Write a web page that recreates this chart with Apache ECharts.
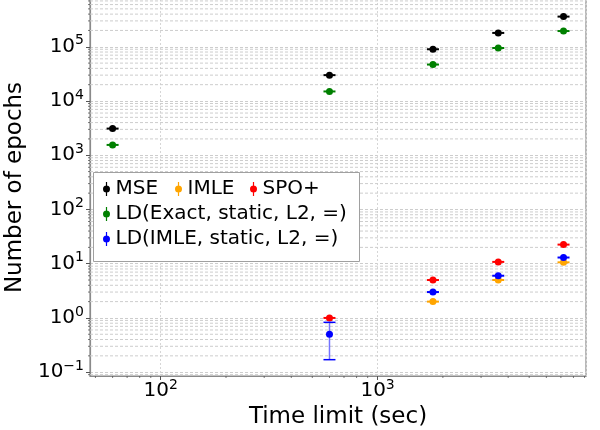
<!DOCTYPE html>
<html>
<head>
<meta charset="utf-8">
<script src="https://cdn.jsdelivr.net/npm/echarts@6/dist/echarts.min.js"></script>
<style>
html,body{margin:0;padding:0;background:#fff;}
#chart{width:600px;height:430px;}
</style>
</head>
<body>
<div id="chart"></div>
<script>
// ---- data ----
const timeLimits = [60, 600, 1800, 3600, 7200];
const mseMean      = [3100, 30000, 90000, 180000, 360000];
const mseErr       = [0, 0, 0, 0, 0];
const imleMean     = [null, null, 2, 5, 10.6];
const imleErr      = [0, 0, 0, 0, 0];
const spoMean      = [null, 1, 5, 10.8, 22.5];
const spoErr       = [0, 0, 0, 0, 0];
const ldExactMean  = [1550, 15000, 47000, 95000, 195000];
const ldExactErr   = [0, 0, 0, 0, 0];
const ldImleMean   = [null, 0.5, 3, 6, 13];
const ldImleErr    = [0, 0.33, 0, 0, 0];

const seriesNames = ['MSE', 'IMLE', 'SPO+', 'LD(Exact, static, L2, =)', 'LD(IMLE, static, L2, =)'];
const seriesColors = ['#000000', '#FFA500', '#FF0000', '#008000', '#0000FF'];
const seriesMeans = [mseMean, imleMean, spoMean, ldExactMean, ldImleMean];
const seriesErrs = [mseErr, imleErr, spoErr, ldExactErr, ldImleErr];

// axis ranges
const xMin = 47.2, xMax = 9140;
const yMin = 0.085, yMax = 7.6e5;

// minor tick positions (log axes: 2..9 x each decade)
const yMinor = [];
for (let d = -2; d <= 5; d++) for (let m = 2; m <= 9; m++) {
  const v = m * Math.pow(10, d);
  if (v > yMin && v < yMax) yMinor.push(v);
}
const xMinor = [];
for (let d = 1; d <= 3; d++) for (let m = 2; m <= 9; m++) {
  const v = m * Math.pow(10, d);
  if (v > xMin && v < xMax) xMinor.push(v);
}

const FONT = 'DejaVu Sans';

function supLabel(v) {
  const l = Math.log10(v);
  const e = Math.round(l);
  if (Math.abs(l - e) > 1e-6) return '';
  const s = e < 0 ? '\u2212' + (-e) : '' + e;
  return '{b|10}{s|' + s + '}';
}
const labelRich = {
  b: {fontSize: 20, lineHeight: 26, fontFamily: FONT, color: '#000'},
  s: {fontSize: 14, lineHeight: 14, fontFamily: FONT, color: '#000', verticalAlign: 'top'}
};

const series = [];

// minor grid lines and minor ticks (y)
series.push({
  type: 'custom', name: '_yminor', silent: true, clip: false, z: 1,
  data: yMinor.map(v => [xMin, v]),
  renderItem: function (params, api) {
    const cs = params.coordSys;
    const p = api.coord([xMin, api.value(1)]);
    return {type: 'group', children: [
      {type: 'line', shape: {x1: cs.x, y1: p[1], x2: cs.x + cs.width, y2: p[1]},
       style: {stroke: '#cdcdcd', lineWidth: 1, lineDash: [3, 2]}},
      {type: 'line', shape: {x1: cs.x - 2, y1: p[1], x2: cs.x, y2: p[1]},
       style: {stroke: '#555', lineWidth: 0.8}}
    ]};
  }
});
// minor ticks (x)
series.push({
  type: 'custom', name: '_xminor', silent: true, clip: false, z: 1,
  data: xMinor.map(v => [v, yMin]),
  renderItem: function (params, api) {
    const cs = params.coordSys;
    const p = api.coord([api.value(0), yMin]);
    return {type: 'line', shape: {x1: p[0], y1: cs.y + cs.height, x2: p[0], y2: cs.y + cs.height + 2},
      style: {stroke: '#555', lineWidth: 0.8}};
  }
});

seriesNames.forEach((name, i) => {
  const color = seriesColors[i];
  const data = [];
  timeLimits.forEach((t, k) => {
    const m = seriesMeans[i][k];
    if (m != null) data.push([t, m, seriesErrs[i][k]]);
  });
  series.push({
    type: 'custom', name: name, clip: false, z: 3 + i,
    itemStyle: {color: color},
    data: data,
    renderItem: function (params, api) {
      const x = api.value(0), y = api.value(1), e = api.value(2);
      const c = api.coord([x, y]);
      const ch = [];
      const capW = 6;
      if (e > 0) {
        const lo = api.coord([x, y - e]);
        const hi = api.coord([x, y + e]);
        ch.push({type: 'line', shape: {x1: c[0], y1: lo[1], x2: c[0], y2: hi[1]},
          style: {stroke: color, opacity: 0.55, lineWidth: 1.5}});
        ch.push({type: 'line', shape: {x1: c[0] - capW, y1: lo[1], x2: c[0] + capW, y2: lo[1]},
          style: {stroke: color, lineWidth: 1.5}});
        ch.push({type: 'line', shape: {x1: c[0] - capW, y1: hi[1], x2: c[0] + capW, y2: hi[1]},
          style: {stroke: color, lineWidth: 1.5}});
      } else {
        ch.push({type: 'line', shape: {x1: c[0] - capW, y1: c[1], x2: c[0] + capW, y2: c[1]},
          style: {stroke: color, lineWidth: 2}});
      }
      ch.push({type: 'circle', shape: {cx: c[0], cy: c[1], r: 3.5}, style: {fill: color}});
      return {type: 'group', children: ch};
    }
  });
});

// legend icon: small vertical error line with a filled dot
const ICON = 'path://M3.4,0h1.2v4h-1.2zM3.4,10h1.2v4h-1.2zM0.5,7a3.5,3.5 0 1,1 7,0a3.5,3.5 0 1,1 -7,0z';
const legendPos = [
  {left: 103, top: 179},
  {left: 175, top: 179},
  {left: 250, top: 179},
  {left: 103, top: 204},
  {left: 103, top: 229}
];
const legends = seriesNames.map((n, i) => ({
  data: [{name: n, icon: ICON}],
  left: legendPos[i].left, top: legendPos[i].top,
  padding: 0, itemWidth: 8, itemHeight: 14, itemGap: 0, z: 10,
  selectedMode: false,
  itemStyle: {color: seriesColors[i], borderWidth: 0, opacity: 1},
  textStyle: {fontSize: 20, fontFamily: FONT, color: '#000'}
}));

const chart = echarts.init(document.getElementById('chart'), null, {renderer: 'canvas'});
chart.setOption({
  animation: false,
  backgroundColor: '#fff',
  textStyle: {fontFamily: FONT},
  grid: {left: 90, right: 14, top: -1, bottom: 54, show: true, borderColor: '#8a8a8a', borderWidth: 1.2,
         containLabel: false, outerBoundsMode: 'none'},
  graphic: [{
    type: 'rect', z: 8, left: 93, top: 172,
    shape: {width: 266, height: 89},
    style: {fill: '#fff', stroke: '#a0a0a0', lineWidth: 1}
  }],
  legend: legends,
  xAxis: {
    type: 'log', logBase: 10, min: xMin, max: xMax, splitNumber: 3,
    name: 'Time limit (sec)', nameLocation: 'middle', nameGap: 23,
    nameTextStyle: {fontSize: 23, fontFamily: FONT, color: '#000'},
    axisLine: {show: true, lineStyle: {color: '#8a8a8a', width: 1.2}},
    axisTick: {show: true, length: 4, inside: false, lineStyle: {color: '#555'}},
    axisLabel: {formatter: supLabel, rich: labelRich, margin: 2, showMinLabel: false, showMaxLabel: false},
    splitLine: {show: true, lineStyle: {color: '#d6d6d6', type: [2, 2], width: 1}},
    minorTick: {show: false}, minorSplitLine: {show: false}
  },
  yAxis: {
    type: 'log', logBase: 10, min: yMin, max: yMax, splitNumber: 7,
    name: 'Number of epochs', nameLocation: 'middle', nameGap: 53, nameRotate: 90,
    nameTextStyle: {fontSize: 23, fontFamily: FONT, color: '#000'},
    axisLine: {show: true, lineStyle: {color: '#8a8a8a', width: 1.2}},
    axisTick: {show: true, length: 4, inside: false, lineStyle: {color: '#555'}},
    axisLabel: {formatter: supLabel, rich: labelRich, margin: 6, showMinLabel: false, showMaxLabel: false},
    splitLine: {show: true, lineStyle: {color: '#cdcdcd', type: [3, 2], width: 1}},
    minorTick: {show: false}, minorSplitLine: {show: false}
  },
  series: series
});
</script>
</body>
</html>
